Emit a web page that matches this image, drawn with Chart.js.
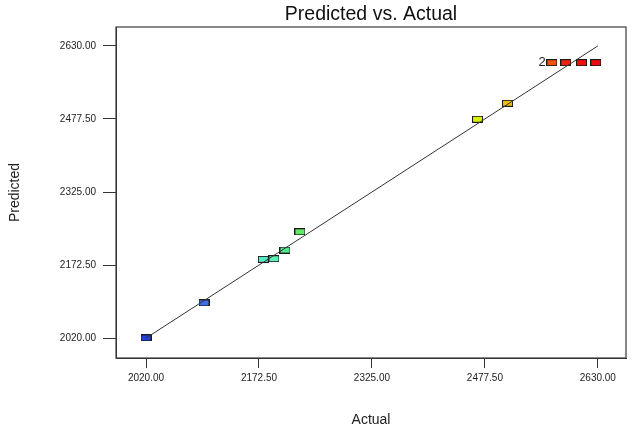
<!DOCTYPE html>
<html>
<head>
<meta charset="utf-8">
<title>Predicted vs. Actual</title>
<script src="https://cdn.jsdelivr.net/npm/chart.js@4.4.1/dist/chart.umd.min.js"></script>
<style>
  html, body { margin: 0; padding: 0; background: #fff; }
  #wrap { width: 640px; height: 434px; }
</style>
</head>
<body>
<div id="wrap"><canvas id="pvaChart"></canvas></div>
<script>
// values
const actualValues = [2020.0, 2098.3, 2178.3, 2192.7, 2207.6, 2227.8, 2467.6, 2508.1, 2567.9, 2586.8, 2608.0, 2627.3];
const predictedValues = [2020.6, 2093.7, 2184.4, 2185.7, 2203.8, 2242.0, 2476.9, 2510.3, 2595.1, 2595.1, 2595.1, 2595.1];
const pointCounts = [1, 1, 1, 1, 1, 1, 1, 1, 2, 1, 1, 1];
const pointColors = ['#2140d8', '#3e6ee8', '#50eec4', '#5cf0b4', '#52e88e', '#62e866',
                     '#d8f000', '#f0c010', '#f05212', '#ec2412', '#f01010', '#ee0a14'];
const axisTicks = [2020, 2172.5, 2325, 2477.5, 2630];
const fitLine = [2020, 2630];

Chart.defaults.font.family = '"Liberation Sans", Arial, sans-serif';

// little rectangle markers like the original software draws
function makeMarker(color) {
    const c = document.createElement('canvas');
    c.width = 11;
    c.height = 7;
    const g = c.getContext('2d');
    g.fillStyle = color;
    g.fillRect(0, 0, 11, 7);
    g.strokeStyle = '#1a1a1a';
    g.lineWidth = 1;
    g.strokeRect(0.5, 0.5, 10, 6);
    return c;
}

// box round the plot area
const plotFrame = {
    id: 'plotFrame',
    afterDraw(chart) {
        const { left, top, right, bottom } = chart.chartArea;
        const ctx = chart.ctx;
        ctx.save();
        ctx.strokeStyle = '#3a3a3a';
        ctx.lineWidth = 1.2;
        ctx.strokeRect(left, top, right - left, bottom - top);
        ctx.restore();
    }
};

// "2" next to points that stand for more than one run
const countLabels = {
    id: 'countLabels',
    afterDatasetsDraw(chart) {
        const meta = chart.getDatasetMeta(1);
        const ctx = chart.ctx;
        ctx.save();
        ctx.font = '13px "Liberation Sans", Arial, sans-serif';
        ctx.fillStyle = '#222';
        ctx.textAlign = 'right';
        ctx.textBaseline = 'middle';
        meta.data.forEach((pt, i) => {
            if (pointCounts[i] > 1) ctx.fillText(String(pointCounts[i]), pt.x - 6, pt.y);
        });
        ctx.restore();
    }
};

const tickFont = { size: 10 };

new Chart(document.getElementById('pvaChart').getContext('2d'), {
    type: 'scatter',
    data: {
        datasets: [{
            label: 'fit',
            data: fitLine.map(v => ({ x: v, y: v })),
            showLine: true,
            borderColor: '#333',
            borderWidth: 1,
            pointRadius: 0
        }, {
            label: 'runs',
            data: actualValues.map((x, i) => ({ x: x, y: predictedValues[i] })),
            pointStyle: pointColors.map(makeMarker),
            pointRadius: 5
        }]
    },
    options: {
        responsive: true,
        maintainAspectRatio: false,
        animation: false,
        events: [],
        layout: { padding: { left: 0, right: 14, top: 0, bottom: 0 } },
        plugins: {
            legend: { display: false },
            tooltip: { enabled: false },
            title: {
                display: true,
                text: 'Predicted vs. Actual',
                fullSize: false,
                color: '#111',
                font: { size: 19.5, weight: 'normal' },
                padding: { top: 3, bottom: 0.6 }
            }
        },
        scales: {
            x: {
                type: 'linear',
                min: 1979.5,
                max: 2668,
                bounds: 'data',
                afterBuildTicks: s => { s.ticks = axisTicks.map(v => ({ value: v })); },
                afterFit: s => { s.height = 76; },
                ticks: {
                    callback: v => v.toFixed(2),
                    font: tickFont,
                    color: '#222',
                    padding: 4,
                    maxRotation: 0,
                    autoSkip: false
                },
                grid: { drawOnChartArea: false, drawTicks: true, tickLength: 10, color: '#333' },
                border: { display: true, color: '#333' },
                title: {
                    display: true,
                    text: 'Actual',
                    color: '#222',
                    font: { size: 14 },
                    padding: { top: 0, bottom: 5 }
                }
            },
            y: {
                type: 'linear',
                min: 1978.5,
                max: 2669.5,
                bounds: 'data',
                afterBuildTicks: s => { s.ticks = axisTicks.map(v => ({ value: v })); },
                afterFit: s => { s.width = 116; },
                ticks: {
                    callback: v => v.toFixed(2),
                    font: tickFont,
                    color: '#222',
                    padding: 7,
                    autoSkip: false
                },
                grid: { drawOnChartArea: false, drawTicks: true, tickLength: 13, color: '#333' },
                border: { display: true, color: '#333' },
                title: {
                    display: true,
                    text: 'Predicted',
                    color: '#222',
                    font: { size: 14 },
                    padding: { top: 6.5, bottom: 0 }
                }
            }
        }
    },
    plugins: [plotFrame, countLabels]
});
</script>
</body>
</html>
